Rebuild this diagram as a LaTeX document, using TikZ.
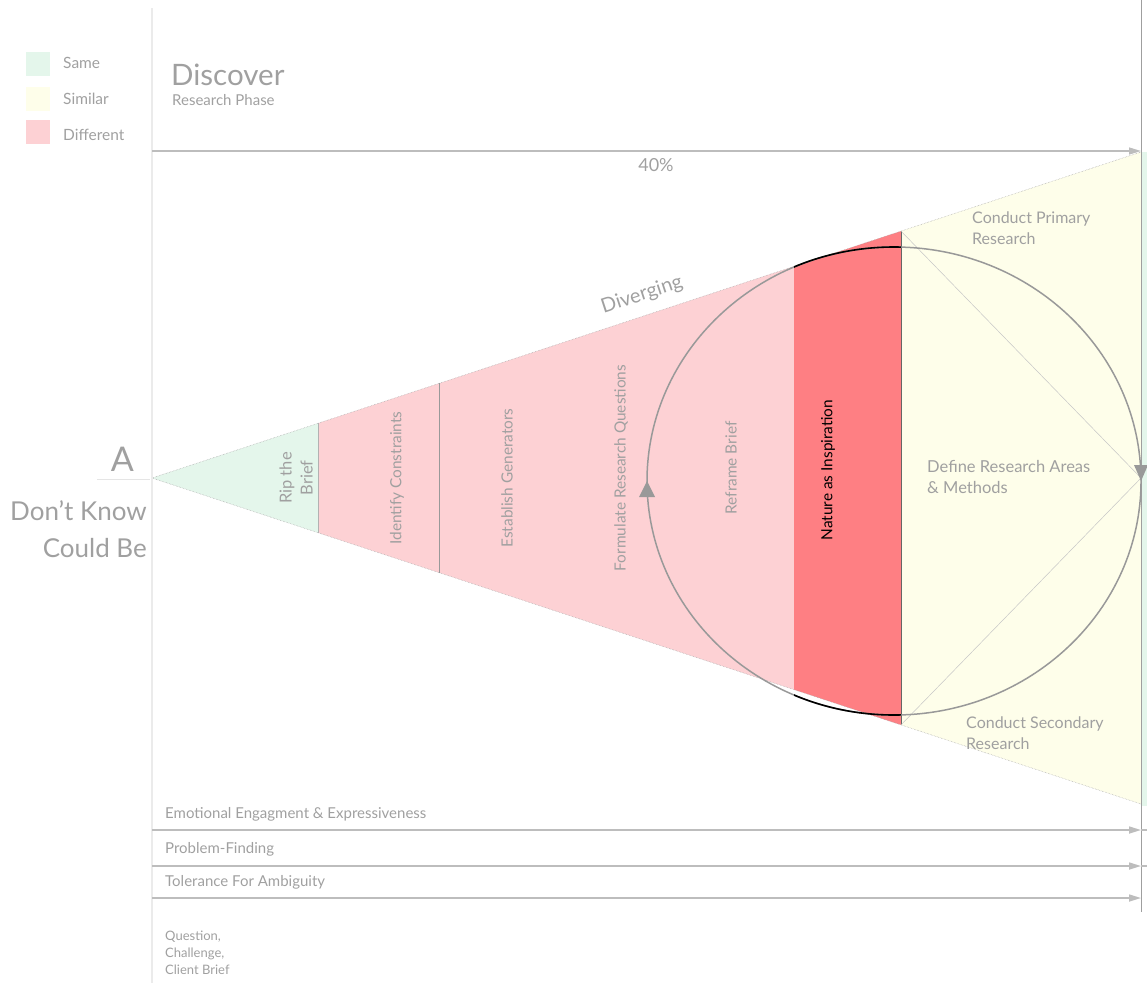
\documentclass[tikz,border=0pt]{standalone}
\usepackage{fontspec}
\setmainfont{Lato}
\usetikzlibrary{arrows.meta}
\definecolor{gsame}{HTML}{E4F6EB}
\definecolor{gsim}{HTML}{FEFEEA}
\definecolor{gdiff}{HTML}{FDD1D4}
\definecolor{gred}{HTML}{FE7F83}
\definecolor{txt}{HTML}{A0A0A0}
\definecolor{lin}{HTML}{BDBDBD}
\tikzset{
  lbl/.style={text=txt, inner sep=0pt, font=\fontsize{15.4}{17}\selectfont},
  vlbl/.style={lbl, rotate=90, align=center},
  edge/.style={draw=gray!70, line width=0.5pt, densely dotted},
  sep/.style={draw=gray!80, line width=0.6pt},
  flowarrow/.style={draw=lin, line width=1.6pt, -{Triangle[length=12pt,width=7pt]}},
  legbox/.style={minimum width=24pt, minimum height=24pt, inner sep=0pt},
}
\begin{document}
\begin{tikzpicture}[x=1pt,y=-1pt]
\useasboundingbox (0,0) rectangle (1147,983);
% coordinates of the cone
\coordinate (apex) at (152,478);
\coordinate (g1) at (318,423.3); \coordinate (g2) at (318,532.7);
\coordinate (p1) at (439,383.4); \coordinate (p2) at (439,572.6);
\coordinate (r1) at (794,266.4); \coordinate (r2) at (794,689.6);
\coordinate (y1) at (901,231.1); \coordinate (y2) at (901,724.9);
\coordinate (e1) at (1141,152); \coordinate (e2) at (1141,804);
\coordinate (mid) at (1141,478);
% right green strip
\fill[gsame] (1142,152) rectangle (1147,806);
% fills
\fill[gsame] (apex) -- (g1) -- (g2) -- cycle;
\fill[gdiff] (g1) -- (r1) -- (r2) -- (g2) -- cycle;
\fill[gred] (r1) -- (y1) -- (y2) -- (r2) -- cycle;
\fill[gsim] (y1) -- (e1) -- (e2) -- (y2) -- cycle;
% cone edges
\draw[edge] (apex) -- (e1);
\draw[edge] (apex) -- (e2);
% separators
\draw[sep, draw=gray!60] (g1) -- (g2);
\draw[sep] (p1) -- (p2);
\draw[draw=black!60, line width=0.7pt] (y1) -- (y2);
% diagonals
\draw[draw=gray!45, line width=0.5pt] (y1) -- (mid);
\draw[draw=gray!45, line width=0.5pt] (y2) -- (mid);
% vertical guides
\draw[draw=black!8, line width=1.5pt] (152,8) -- (152,983);
\draw[draw=gray!75, line width=0.8pt] (1141,0) -- (1141,912);
% circle
\draw[draw=gray!80, line width=1.5pt] (894,481) ellipse [x radius=247, y radius=234];
\begin{scope}
\clip (794,200) rectangle (901,760);
\draw[black, line width=1.6pt] (894,481) ellipse [x radius=247, y radius=234];
\end{scope}
\fill[gray!80] (647,481) -- (639,497) -- (655,497) -- cycle;
\fill[gray!80] (1134,465) -- (1148,465) -- (1141,481) -- cycle;
% top arrow
\coordinate (ta) at (152,151); \coordinate (tb) at (1141,151);
\draw[flowarrow, line width=1.3pt] (ta) -- (tb);
\node[lbl, font=\fontsize{18}{20}\selectfont] (pct) at (656,165) {40\%};
% bottom arrows
\coordinate (b1a) at (152,830); \coordinate (b1b) at (1141,830);
\coordinate (b2a) at (152,866); \coordinate (b2b) at (1141,866);
\coordinate (b3a) at (152,898); \coordinate (b3b) at (1141,898);
\draw[flowarrow] (b1a) -- (b1b);
\draw[flowarrow] (b2a) -- (b2b);
\draw[flowarrow] (b3a) -- (b3b);
\draw[draw=lin, line width=1.2pt] (1141,830) -- (1147,830);
\draw[draw=lin, line width=1.2pt] (1141,866) -- (1147,866);
\node[lbl, anchor=west, font=\fontsize{15}{17}\selectfont] (emo) at (165,814) {Emotional Engagment \& Expressiveness};
\node[lbl, anchor=west, font=\fontsize{15}{17}\selectfont] (prob) at (165,849) {Problem-Finding};
\node[lbl, anchor=west, font=\fontsize{15}{17}\selectfont] (tol) at (165,882) {Tolerance For Ambiguity};
\node[lbl, anchor=north west, align=left, font=\fontsize{13}{17}\selectfont] (qcc) at (165,931) {Question,\\Challenge,\\Client Brief};
% legend
\node[legbox, fill=gsame] (ls) at (38,64) {};
\node[legbox, fill=gsim] (lsi) at (38,99) {};
\node[legbox, fill=gdiff] (ld) at (38,132) {};
\node[lbl, anchor=west, font=\fontsize{15.5}{17}\selectfont] (lst) at (63,63) {Same};
\node[lbl, anchor=west, font=\fontsize{15.5}{17}\selectfont] (lsit) at (63,99) {Similar};
\node[lbl, anchor=west, font=\fontsize{15.5}{17}\selectfont] (ldt) at (63,135) {Different};
% titles
\node[lbl, anchor=west, font=\fontsize{29.5}{31}\selectfont] (disc) at (171,75) {Discover};
\node[lbl, anchor=west, font=\fontsize{15}{17}\selectfont] (rp) at (172,100) {Research Phase};
\node[lbl, anchor=east, font=\fontsize{34}{36}\selectfont] (A) at (134,459) {A};
\draw[draw=black!10, line width=0.8pt] (97,479) -- (150,479);
\node[lbl, anchor=east, font=\fontsize{26}{28}\selectfont] (dk) at (147,511) {Don’t Know};
\node[lbl, anchor=east, font=\fontsize{26}{28}\selectfont] (cb) at (147,548) {Could Be};
\node[lbl, rotate=18.2, font=\fontsize{20}{22}\selectfont] (div) at (642,295) {Diverging};
% vertical labels
\node[vlbl, font=\fontsize{16.5}{21}\selectfont] (rip) at (296,478) {Rip the\\Brief};
\node[vlbl] (idc) at (397,478) {Identify Constraints};
\node[vlbl] (est) at (507,478) {Establish Generators};
\node[vlbl] (frq) at (621,468) {Formulate Research Questions};
\node[vlbl] (rfb) at (731,468) {Reframe Brief};
\node[vlbl, text=black] (nai) at (828,470) {Nature as Inspiration};
\node[lbl, anchor=west, align=left, font=\fontsize{16.5}{21}\selectfont] (dra) at (927,477) {Define Research Areas\\\& Methods};
\node[lbl, anchor=west, align=left, font=\fontsize{16}{21}\selectfont] (cpr) at (972,228) {Conduct Primary\\Research};
\node[lbl, anchor=west, align=left, font=\fontsize{16}{21}\selectfont] (csr) at (966,733) {Conduct Secondary\\Research};
\end{tikzpicture}
\end{document}
